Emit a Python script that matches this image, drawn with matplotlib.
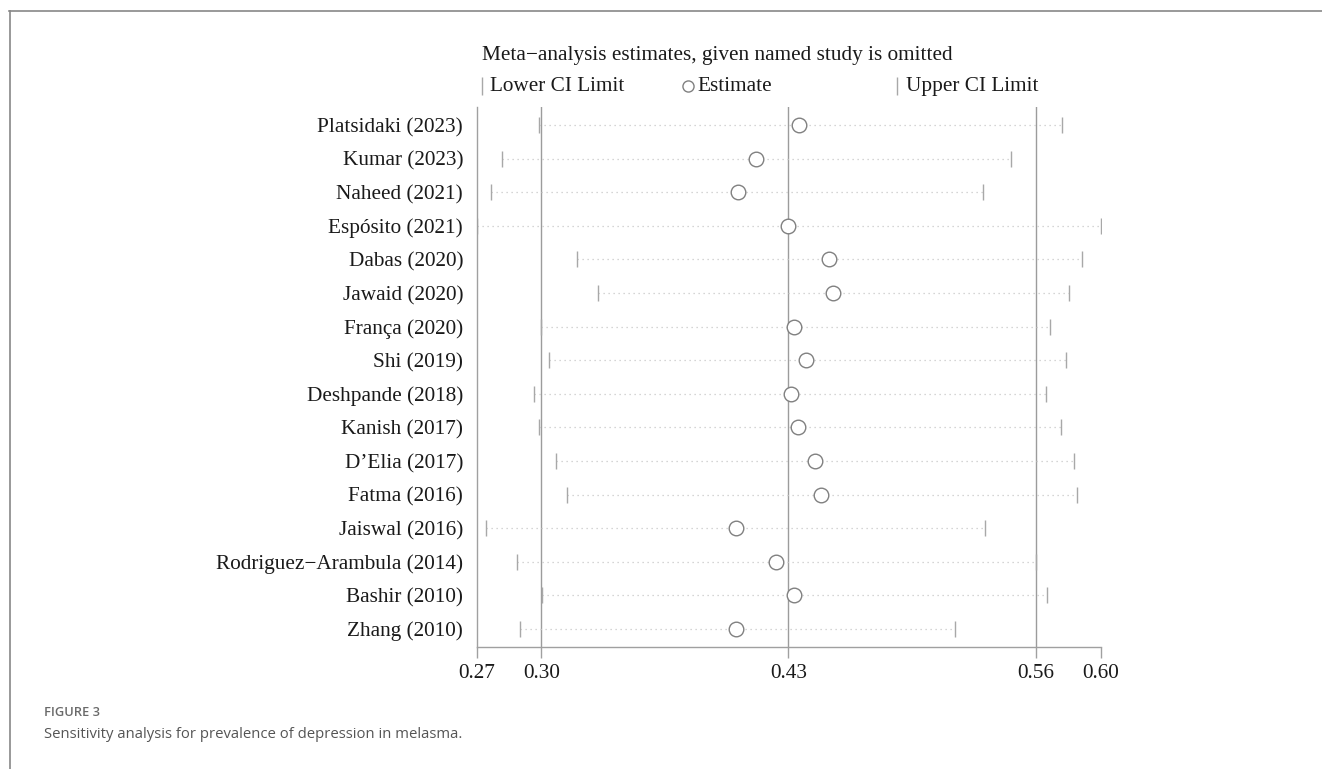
import numpy as np
import matplotlib
matplotlib.use("Agg")
import matplotlib.pyplot as plt
from matplotlib.lines import Line2D

plt.rcParams['font.family'] = ['Liberation Serif', 'DejaVu Serif']

# data
studies = ["Platsidaki (2023)", "Kumar (2023)", "Naheed (2021)", "Espósito (2021)",
           "Dabas (2020)", "Jawaid (2020)", "França (2020)", "Shi (2019)",
           "Deshpande (2018)", "Kanish (2017)", "D’Elia (2017)", "Fatma (2016)",
           "Jaiswal (2016)", "Rodriguez−Arambula (2014)", "Bashir (2010)", "Zhang (2010)"]
estimate = [0.4376, 0.4147, 0.4049, 0.4318, 0.4535, 0.4556, 0.4350, 0.4413,
            0.4329, 0.4371, 0.4456, 0.4492, 0.4038, 0.4250, 0.4350, 0.4043]
lower = [0.2998, 0.2802, 0.2744, 0.2670, 0.3198, 0.3309, 0.3008, 0.3050,
         0.2971, 0.2998, 0.3087, 0.3145, 0.2718, 0.2881, 0.3013, 0.2895]
upper = [0.5766, 0.5496, 0.5348, 0.5972, 0.5871, 0.5803, 0.5702, 0.5787,
         0.5681, 0.5760, 0.5829, 0.5845, 0.5359, 0.5626, 0.5686, 0.5200]
overall = [0.3010, 0.4318, 0.5626]   # lower, estimate, upper of the full meta-analysis

FS = 15.3
fig = plt.figure(figsize=(13.22, 7.69), dpi=100, facecolor="w")
ax = fig.add_axes([477/1322, 1-647/769, (1101-477)/1322, (647-107)/769])

y = np.arange(len(studies))
# dotted CI lines
for i in range(len(studies)):
    ax.plot([lower[i], upper[i]], [y[i], y[i]], color="#c8c8c8", lw=0.9,
            linestyle=(0, (1, 3)), zorder=1)
# reference lines
for v in overall:
    ax.axvline(v, color="#9c9c9c", lw=1.0, zorder=0)
ax.plot(lower, y, ls="none", marker="|", ms=12, mew=1.0, color="#a8a8a8", zorder=2)
ax.plot(upper, y, ls="none", marker="|", ms=12, mew=1.0, color="#a8a8a8", zorder=2)
ax.plot(estimate, y, ls="none", marker="o", ms=10.5, mew=1.0, mec="#808080",
        mfc="white", zorder=3)

xmin, xmax = min(lower), max(upper)
ax.set_xlim(xmin, xmax)
ax.set_ylim(len(studies) - 0.46, -0.54)
ticks = [xmin] + overall + [xmax]
ax.set_xticks(ticks)
ax.set_xticklabels(["%.2f" % t for t in ticks])
ax.set_yticks(y)
ax.set_yticklabels(studies)
ax.tick_params(axis="y", length=0, pad=10, labelsize=FS, labelcolor="#1a1a1a")
ax.tick_params(axis="x", length=8, width=1, color="#a0a0a0", pad=4,
               labelsize=FS, labelcolor="#1a1a1a")
for s in ["top", "right"]:
    ax.spines[s].set_visible(False)
for s in ["left", "bottom"]:
    ax.spines[s].set_color("#a0a0a0")
    ax.spines[s].set_linewidth(1.0)

# title and legend
fig.text(482/1322, 1-60/769, "Meta−analysis estimates, given named study is omitted",
         fontsize=FS, color="#1a1a1a", va="baseline", ha="left")
ly = 1-86/769
lb = 1-91/769
for xp, m, lab, xt in [(482, "|", "Lower CI Limit", 490),
                       (688, "o", "Estimate", 697),
                       (897, "|", "Upper CI Limit", 906)]:
    if m == "|":
        fig.add_artist(Line2D([xp/1322], [ly], marker="|", ms=13, mew=1.0,
                              color="#a8a8a8", transform=fig.transFigure))
    else:
        fig.add_artist(Line2D([xp/1322], [ly], marker="o", ms=8, mew=1.0, mec="#808080",
                              mfc="white", transform=fig.transFigure))
    fig.text(xt/1322, lb, lab, fontsize=FS, color="#1a1a1a", va="baseline", ha="left")

# frame lines of the page
fig.add_artist(Line2D([9/1322, 1], [1-11/769, 1-11/769], color="#888888", lw=1.2,
                      transform=fig.transFigure))
fig.add_artist(Line2D([10/1322, 10/1322], [0, 1-11/769], color="#888888", lw=1.2,
                      transform=fig.transFigure))

# caption
fig.text(44/1322, 1-712/769, "FIGURE 3", fontsize=9.3, fontweight="semibold",
         color="#6a6a6a", family="Open Sans", va="center", ha="left")
fig.text(44/1322, 1-734/769, "Sensitivity analysis for prevalence of depression in melasma.",
         fontsize=10.7, color="#555555", family="Open Sans", va="center", ha="left")

fig.savefig("out.png", dpi=100, facecolor="w")
